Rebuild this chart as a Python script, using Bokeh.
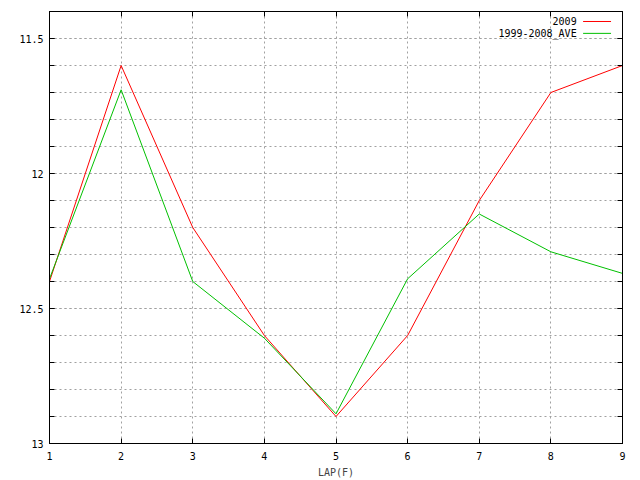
from bokeh.plotting import figure
from bokeh.models import Range1d, FixedTicker, LinearAxis, Label, Arrow
from bokeh.embed import file_html
from bokeh.resources import INLINE

laps = [1, 2, 3, 4, 5, 6, 7, 8, 9]
y2009 = [12.4, 11.6, 12.2, 12.6, 12.9, 12.6, 12.1, 11.7, 11.6]
yave = [12.39, 11.69, 12.4, 12.61, 12.89, 12.39, 12.15, 12.29, 12.37]
series_names = ["2009", "1999-2008_AVE"]
series_colors = ["#ff0000", "#00c000"]
y_major = [11.5, 12.0, 12.5, 13.0]
y_minor = [11.4, 11.5, 11.6, 11.7, 11.8, 11.9, 12.0, 12.1, 12.2, 12.3,
           12.4, 12.5, 12.6, 12.7, 12.8, 12.9, 13.0]
x_label = "LAP(F)"

FONT = "DejaVu Sans Mono"
FS = "10px"
GRID = "#a0a0a0"

p = figure(width=640, height=480, output_backend="svg", toolbar_location=None,
           x_range=Range1d(1, 9), y_range=Range1d(13.0, 11.4),
           min_border_left=49, min_border_right=18, min_border_top=11,
           min_border_bottom=37)
p.background_fill_color = "white"
p.border_fill_color = "white"
p.outline_line_color = "black"
p.outline_line_width = 1

yt = FixedTicker(ticks=y_major, minor_ticks=y_minor)
xt = FixedTicker(ticks=laps, minor_ticks=[])

p.yaxis.ticker = yt
p.xaxis.ticker = xt

for ax in (p.xaxis[0], p.yaxis[0]):
    ax.axis_line_color = "black"
    ax.major_tick_in = 5
    ax.major_tick_out = 0
    ax.minor_tick_in = 5
    ax.minor_tick_out = 0
    ax.major_tick_line_color = "black"
    ax.minor_tick_line_color = "black"
    ax.major_label_text_font = FONT
    ax.major_label_text_font_size = FS
    ax.major_label_text_color = "black"

p.yaxis.major_label_standoff = 6
p.xaxis.major_label_standoff = 8
p.xaxis.axis_label = x_label
p.xaxis.axis_label_text_font = FONT
p.xaxis.axis_label_text_font_size = FS
p.xaxis.axis_label_text_font_style = "normal"
p.xaxis.axis_label_standoff = 4

# mirrored axes (ticks only)
for loc, tk in (("right", yt), ("above", xt)):
    ax = LinearAxis(ticker=tk)
    ax.axis_line_color = "black"
    ax.major_tick_in = 5
    ax.major_tick_out = 0
    ax.minor_tick_in = 5
    ax.minor_tick_out = 0
    ax.major_label_text_font_size = "0px"
    ax.major_label_standoff = 0
    ax.major_label_text_color = None
    p.add_layout(ax, loc)

p.xgrid.grid_line_color = GRID
p.xgrid.grid_line_dash = "2 3"
p.ygrid.grid_line_color = GRID
p.ygrid.grid_line_dash = "2 3"
p.ygrid.minor_grid_line_color = GRID
p.ygrid.minor_grid_line_dash = "2 3"

p.line(laps, y2009, line_color=series_colors[0], line_width=1)
p.line(laps, yave, line_color=series_colors[1], line_width=1)

# gnuplot-style key: text right-aligned, sample line to the right
key_y = [11.437, 11.481]
for name, col, ky in zip(series_names, series_colors, key_y):
    p.add_layout(Label(x=8.36, y=ky, text=name, text_align="right",
                       text_baseline="middle", text_font=FONT,
                       text_font_size=FS, text_color="black"))
    p.add_layout(Arrow(start=None, end=None, x_start=8.45, y_start=ky,
                       x_end=8.84, y_end=ky, line_color=col, line_width=1))

open("out.html", "w").write(file_html(p, INLINE))
